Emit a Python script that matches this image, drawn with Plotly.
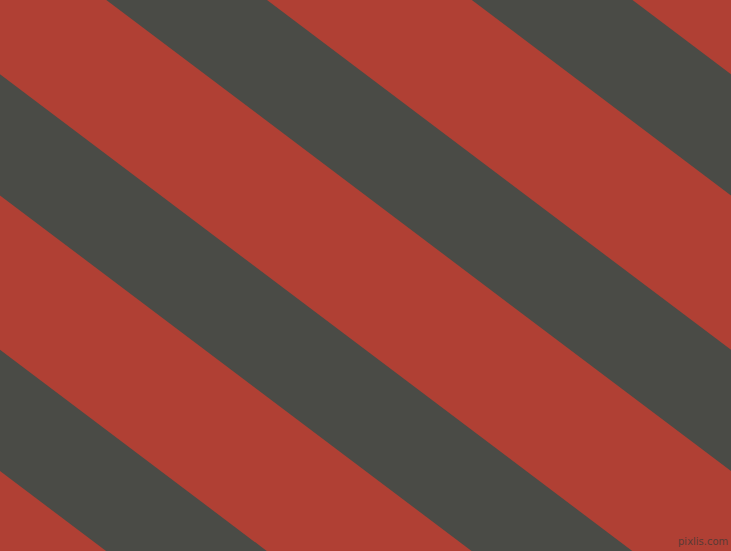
import plotly.graph_objects as go

# Pattern data: diagonal stripe geometry
width_px = 731
height_px = 551
gray_start_at_top = [-624.7, -259.2, 106.3, 471.8]   # x where each gray band's left edge meets the top
gray_end_at_top = [-464.0, -98.5, 267.0, 632.5]      # x where each gray band's right edge meets the top
slope_dy_dx = 0.754                                   # stripes fall to the right
red_color = "#B04034"
gray_color = "#4A4B46"
watermark = "pixlis.com"

fig = go.Figure()
shift = height_px / slope_dy_dx
for a, b in zip(gray_start_at_top, gray_end_at_top):
    fig.add_trace(go.Scatter(
        x=[a, b, b + shift, a + shift, a],
        y=[0, 0, height_px, height_px, 0],
        mode="lines", fill="toself", fillcolor=gray_color,
        line=dict(width=0, color=gray_color), hoverinfo="skip", showlegend=False,
    ))

fig.add_annotation(x=703, y=541, text=watermark, showarrow=False,
                   font=dict(family="DejaVu Sans", size=10, color="#5a3a34"))

fig.update_layout(
    width=width_px, height=height_px,
    margin=dict(l=0, r=0, t=0, b=0, pad=0),
    paper_bgcolor=red_color, plot_bgcolor=red_color,
    xaxis=dict(range=[0, width_px], visible=False, fixedrange=True),
    yaxis=dict(range=[height_px, 0], visible=False, fixedrange=True),
    showlegend=False,
)
fig.write_html(
    "out.html",
    config={"displayModeBar": False},
    post_script="document.body.style.margin='0';document.body.style.padding='0';document.body.style.overflow='hidden';",
)
